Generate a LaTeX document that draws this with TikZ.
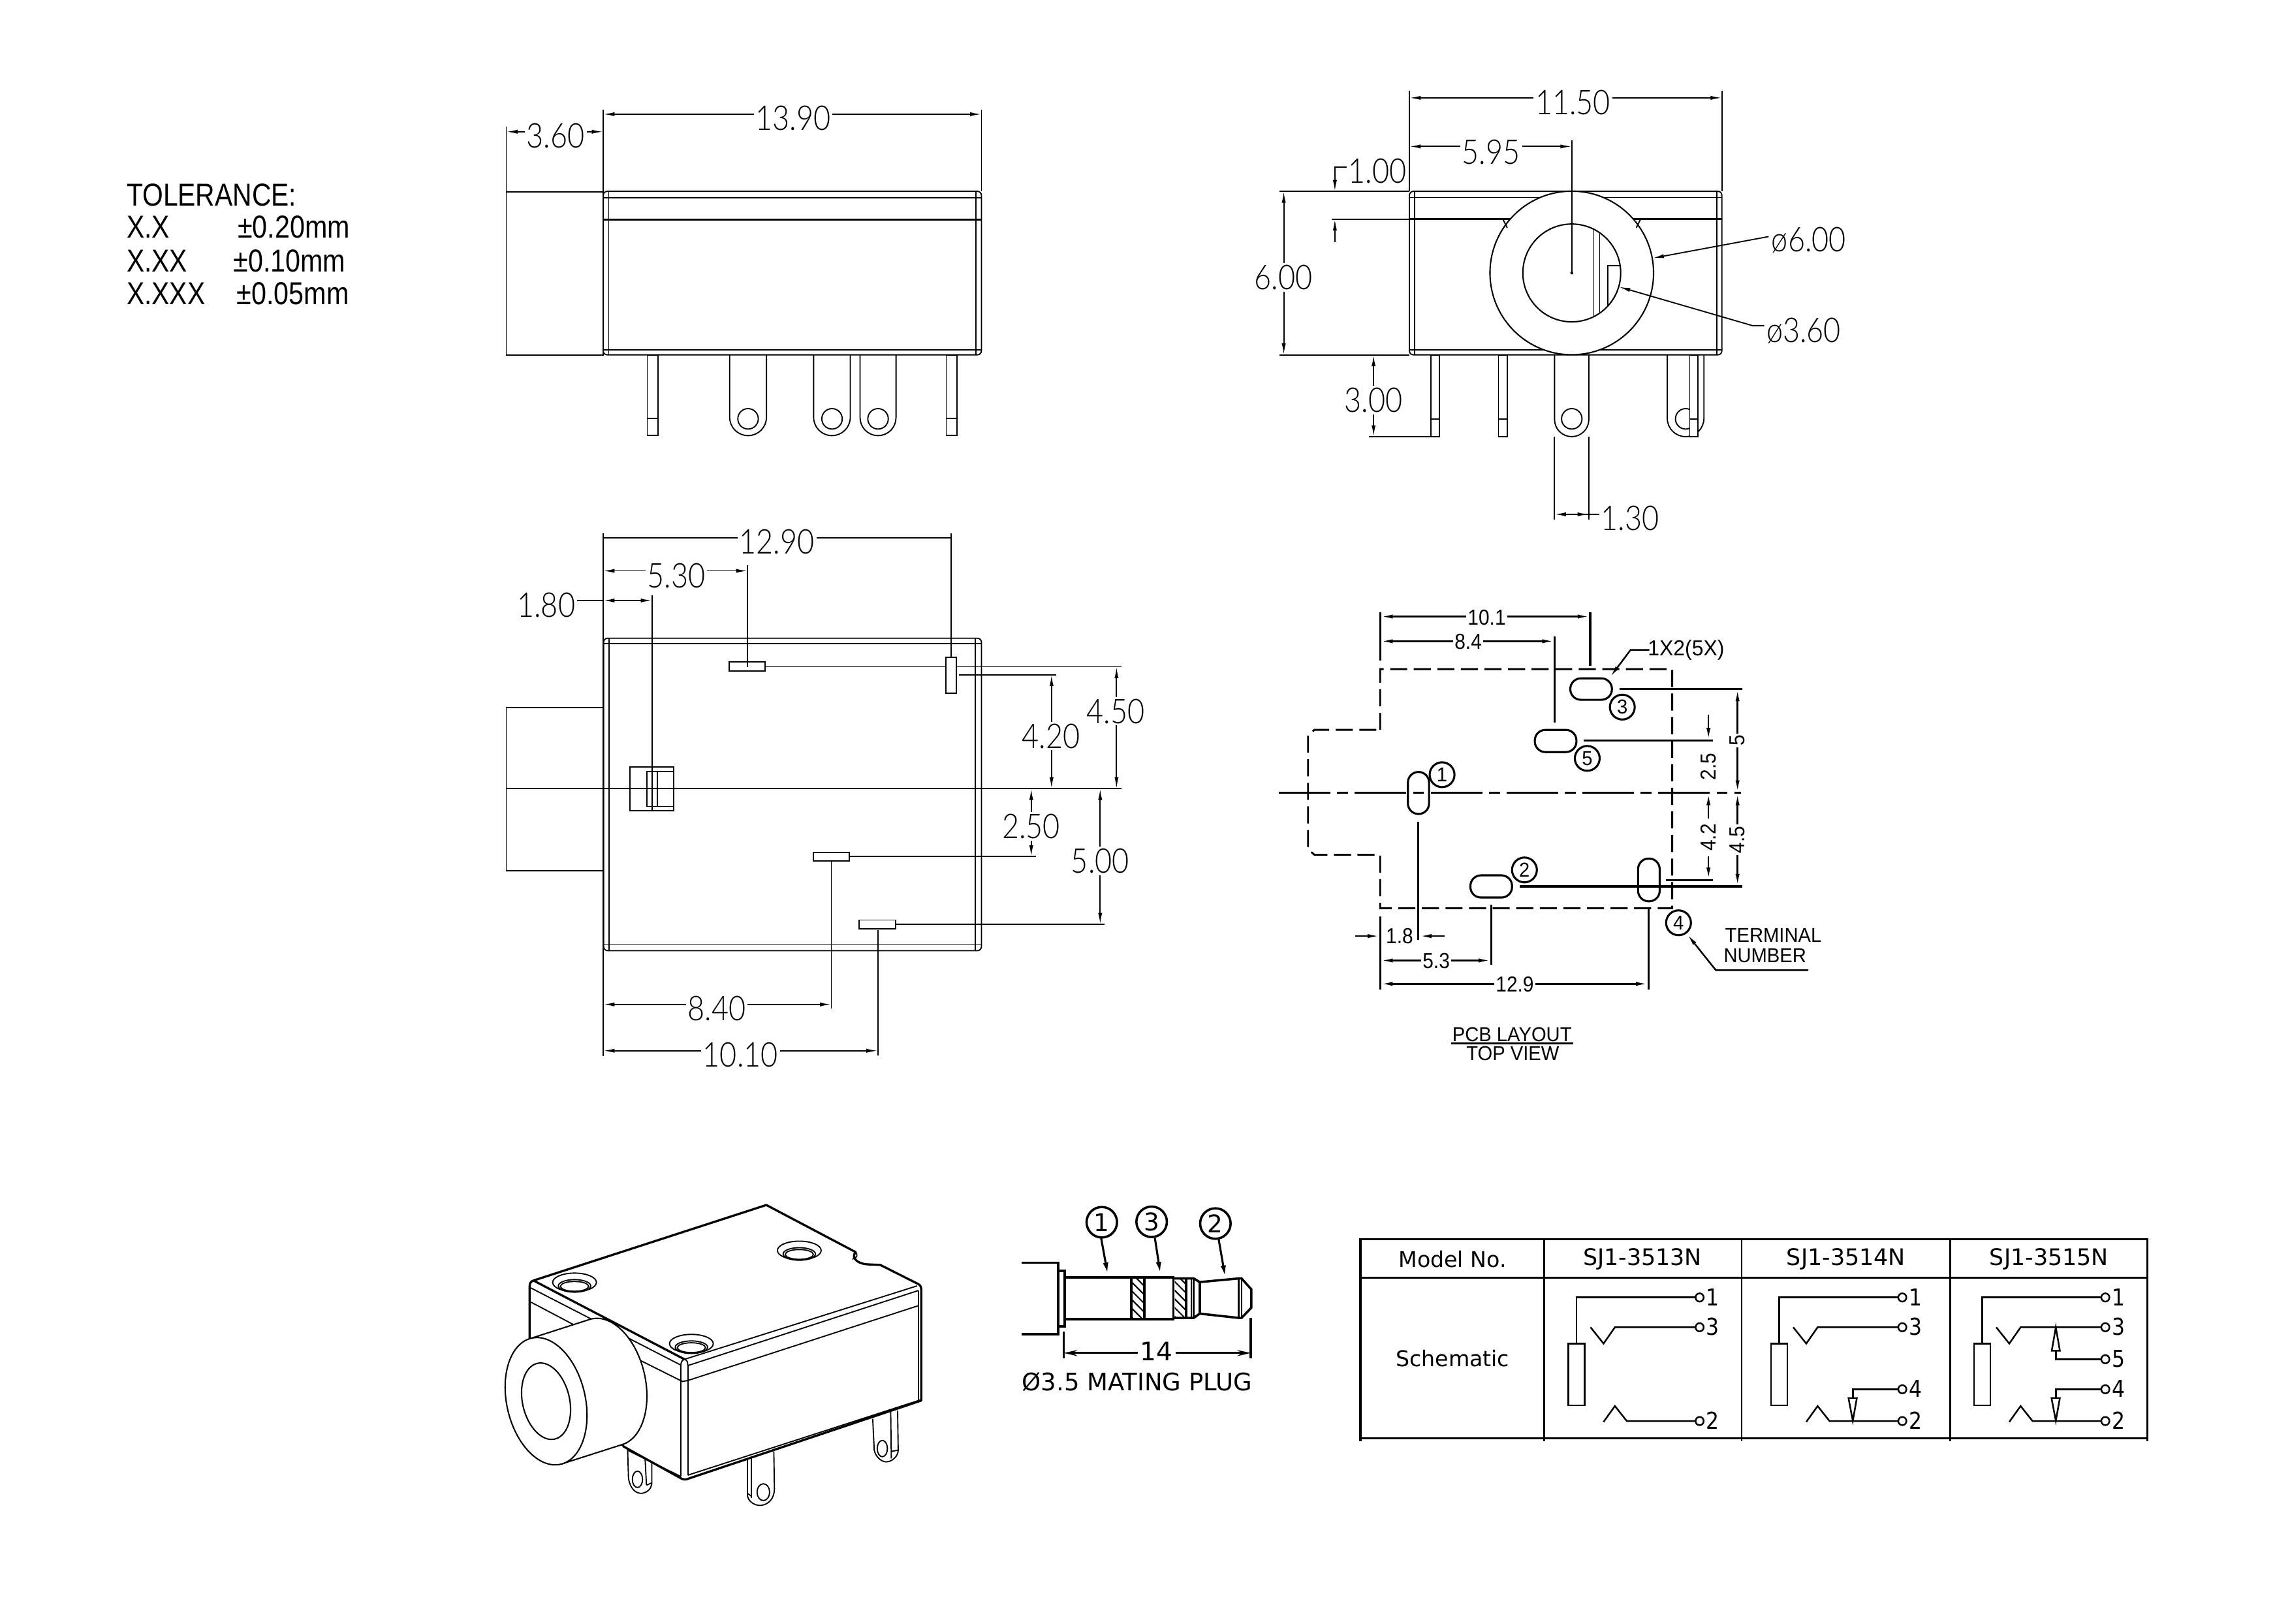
\documentclass[tikz,border=0pt]{standalone}
\usepackage{fontspec}
\usepackage{graphicx}
\usetikzlibrary{arrows.meta}
\setmainfont{Liberation Sans}
\newfontfamily\lightf[UprightFont=* Light]{Lato}
\newfontfamily\tabf{DejaVu Sans}
\newcount\tc
\newcommand\txtn[3][]{\global\advance\tc by 1 \node[inner sep=0pt,#1] (n\the\tc) at (#2) {#3};}
\newcommand\dtxt[3][]{\txtn[fill=white,inner sep=.7pt,#1]{#2}{\lightf\fontsize{12.6}{14}\selectfont\scalebox{.86}[1]{#3}}}
\newcommand\ptxt[3][]{\txtn[#1]{#2}{\fontsize{7.4}{9}\selectfont\scalebox{.95}[1]{#3}}}
\newcommand\ntxt[3][]{\txtn[#1]{#2}{\fontsize{8}{9}\selectfont\scalebox{.9}[1]{#3}}}
\newcommand\ttxt[2]{\txtn{#1}{\tabf\fontsize{8}{9}\selectfont #2}}
\newcommand\hdim[4][]{\draw[dl,#1] (#3,#2) -- (#4,#2);}
\newcommand\vdim[4][]{\draw[dl,#1] (#2,#3) -- (#2,#4);}
\newcommand\lug[4]{\draw[thinl] (#1,#3) -- (#1,#4-#2*.5+#1*.5) arc [start angle=180,end angle=0,radius={(#2-#1)/2}] -- (#2,#3);}
\newcommand\pin[4]{\draw[thinl,fill=white] (#1,#3) rectangle (#2,#4);\draw[thinl] (#1,286.6) -- (#2,286.6);}
\newcommand\isohole[2]{\draw[isol] (#1,#2) ellipse [x radius=73,y radius=40];
  \draw[isol] (#1,#2+15) ellipse [x radius=54,y radius=27];
  \draw[isol] (#1,#2+17) ellipse [x radius=47,y radius=21];}
\newcommand\term[2]{\draw[tab] (1263,#2) ellipse [x radius=15,y radius=19];\txtn{1312,#2-2}{\tabf\fontsize{8.6}{9}\selectfont\scalebox{.88}[1]{#1}}}
\newcommand\schbase{%
  \draw[tab] (778,505) rectangle (838,788);
  \draw[tab] (808,505) -- (808,293) -- (1248,293);
  \draw[tab] (860,430) -- (908,505) -- (950,430) -- (1248,430);
  \draw[tab] (908,865) -- (950,792) -- (994,861) -- (1248,861);
  \term{1}{293}\term{3}{430}\term{2}{861}}
\newcommand\schfour{%
  \draw[tab] (1248,715) -- (1080,715) -- (1080,755);
  \draw[tab] (1064,755) -- (1095,755) -- (1080,860) -- cycle;
  \term{4}{715}}
\tikzset{
  thinl/.style={line width=.45pt,black},
  midl/.style={line width=.8pt,black},
  dl/.style={line width=.45pt,{Latex[length=4.2pt,width=1.5pt]}-{Latex[length=4.2pt,width=1.5pt]}},
  ar/.style={line width=.45pt,-{Latex[length=4.2pt,width=1.5pt]}},
  pcb/.style={line width=.75pt},
  pcba/.style={line width=.6pt,{Latex[length=4.6pt,width=1.5pt]}-{Latex[length=4.6pt,width=1.5pt]}},
  pcbb/.style={line width=.6pt,-{Latex[length=4.6pt,width=1.5pt]}},
  pcbd/.style={line width=.7pt,dash pattern=on 6.3pt off 2.4pt},
  isol/.style={line width=.45pt},
  isoh/.style={line width=.8pt},
  tab/.style={line width=.6pt},
  tabh/.style={line width=.85pt},
  plug/.style={line width=.85pt},
  pluga/.style={line width=.75pt,-{Latex[length=4.2pt,width=2pt]}},
}
\begin{document}
\begin{tikzpicture}[x=0.18941mm,y=-0.18941mm]
\useasboundingbox (0,0) rectangle (1568,1111.7);
\fill[white] (0,0) rectangle (1568,1111.7);

% ---------- tolerance
\newcommand\tolf{\fontsize{11.7}{14}\selectfont}
\txtn[anchor=base west]{86.4,140.8}{\tolf\scalebox{.84}[1]{TOLERANCE:}}
\txtn[anchor=base west]{86.4,163.1}{\tolf\scalebox{.84}[1]{X.X}}
\txtn[anchor=base west]{86.4,186.2}{\tolf\scalebox{.84}[1]{X.XX}}
\txtn[anchor=base west]{86.4,208.6}{\tolf\scalebox{.84}[1]{X.XXX}}
\txtn[anchor=base west]{162.4,163.1}{\tolf\scalebox{.85}[1]{±0.20mm}}
\txtn[anchor=base west]{159.4,186.2}{\tolf\scalebox{.85}[1]{±0.10mm}}
\txtn[anchor=base west]{161.7,208.6}{\tolf\scalebox{.85}[1]{±0.05mm}}

% ---------- view 1 (side)
\lug{499.6}{524.8}{243}{298.3}\lug{557.1}{582.2}{243}{298.3}\lug{588.9}{613.5}{243}{298.3}
\draw[thinl] (512.2,286.8) ellipse [radius=7];
\draw[thinl] (569.7,286.8) ellipse [radius=7];
\draw[thinl] (601.2,286.8) ellipse [radius=7];
\pin{443.2}{450.6}{243}{298.3}\pin{647.9}{655.4}{243}{298.3}
\draw[thinl] (346.6,131.3) rectangle (413,243);
\draw[thinl,rounded corners=1.5pt] (413,131) rectangle (672,243);
\draw[thinl] (416.8,131) -- (416.8,243) (668.4,131) -- (668.4,243);
\draw[thinl] (413,135.6) -- (672,135.6) (413,239.4) -- (672,239.4);
\draw[midl] (413,150.4) -- (672,150.4);
\draw[thinl] (413,75) -- (413,131) (672,75) -- (672,131) (346.6,86.5) -- (346.6,131);
\hdim{78.2}{413}{672}
\hdim{90.2}{346.6}{413}
\dtxt{543,81}{13.90}
\dtxt{380.5,93}{3.60}

% ---------- view 2 (front)
\draw[thinl,fill=white] (979.9,243) rectangle (985.6,299);
\draw[thinl] (979.9,286.8) -- (985.6,286.8);
\draw[thinl,fill=white] (1026,243) rectangle (1031.9,299);
\draw[thinl] (1026,286.8) -- (1031.9,286.8);
\lug{1064.4}{1087.9}{243}{299}
\draw[thinl] (1076.2,286.8) ellipse [radius=7];
\lug{1141.6}{1166.7}{243}{299}
\draw[thinl] (1154.2,286.8) ellipse [radius=7];
\draw[thinl,fill=white] (1157,243) rectangle (1162.7,299);
\draw[thinl] (1157,286.8) -- (1162.7,286.8);
\draw[thinl,rounded corners=1.5pt] (965,131) rectangle (1179,243);
\draw[thinl] (968.6,131) -- (968.6,243) (1175.6,131) -- (1175.6,243);
\draw[thinl] (965,135.2) -- (1179,135.2) (965,239.4) -- (1179,239.4);
\draw[midl] (965,150) -- (1179,150);
\draw[line width=.5pt,fill=white] (1076.2,186.9) circle [radius=56];
\draw[thinl] (1029,150) -- (1032,156) (1123.4,150) -- (1120.4,156);
\begin{scope}
  \clip (1076.2,186.9) circle [radius=33.5];
  \draw[thinl] (1091.3,150) -- (1091.3,225) (1095.3,150) -- (1095.3,225);
  \draw[thinl] (1101,225) -- (1101,182) -- (1112,182);
\end{scope}
\draw[line width=.5pt] (1076.2,186.9) circle [radius=33.5];
\fill (1076.2,186.9) circle [radius=1];
\draw[thinl] (965,62) -- (965,131) (1179,62) -- (1179,131);
\hdim{67}{965}{1179}
\dtxt{1077,70}{11.50}
\hdim{100.3}{965}{1076.2}
\draw[thinl] (1076.2,96) -- (1076.2,186.9);
\dtxt{1021,104}{5.95}
\draw[thinl] (876,131) -- (965,131) (876,243) -- (965,243) (912,150) -- (965,150);
\vdim{879}{131}{243}
\dtxt{878.7,190}{6.00}
\draw[ar] (922,114.5) -- (914,114.5) -- (914,131);
\draw[ar] (914,166) -- (914,150);
\txtn[anchor=west,fill=white,inner sep=.5pt]{922,117}{\lightf\fontsize{12.6}{14}\selectfont\scalebox{.86}[1]{1.00}}
\draw[thinl] (937.5,243) -- (965,243) (937.5,299) -- (979.9,299);
\vdim{940.5}{243}{299}
\dtxt{940.5,274}{3.00}
\draw[thinl] (1064.4,299) -- (1064.4,356) (1087.9,299) -- (1087.9,356);
\draw[ar] (1075,352.2) -- (1064.4,352.2);
\draw[ar] (1078,352.2) -- (1087.9,352.2);
\draw[thinl] (1075,352.2) -- (1096,352.2);
\dtxt{1116,355}{1.30}
\draw[ar] (1211,162) -- (1131.5,176.8);
\dtxt{1238.5,164.5}{ø6.00}
\draw[ar] (1208,223) -- (1200,223) -- (1108.5,196.4);
\dtxt{1235,226.5}{ø3.60}

% ---------- view 3 (bottom)
\draw[thinl] (346.6,484.6) -- (413,484.6) (346.6,596.4) -- (413,596.4) (346.6,484.6) -- (346.6,596.4);
\draw[thinl,rounded corners=1.5pt] (413.3,437) rectangle (672,651);
\draw[thinl] (417,437) -- (417,651) (667.8,437) -- (667.8,651);
\draw[thinl] (413,440.8) -- (672,440.8) (413,647) -- (672,647);
\draw[thinl] (413,365) -- (413,723);
\draw[thinl] (346.6,540) -- (768,540);
\draw[thinl] (431.4,525.3) rectangle (461.2,555.2);
\draw[thinl] (443,528.2) rectangle (461.2,552.2);
\draw[thinl] (450.2,528.2) -- (450.2,552.2);
\draw[thinl] (446.5,407.6) -- (446.5,555);
\draw[thinl] (499.2,453.4) rectangle (524,459.5);
\draw[thinl] (511.8,387) -- (511.8,456.6);
\draw[thinl] (524,456.6) -- (768,456.6);
\draw[thinl,fill=white] (647.6,450) rectangle (654.8,474.5);
\draw[thinl] (651.2,365) -- (651.2,450);
\draw[thinl] (656.6,462) -- (723.4,462);
\draw[thinl] (557,583.6) rectangle (581.4,589.5);
\draw[thinl] (581.4,586.6) -- (709.3,586.6);
\draw[thinl] (569.2,590.2) -- (569.2,690.5);
\draw[thinl] (588.2,630) rectangle (613.3,636);
\draw[thinl] (613.3,632.9) -- (756.3,632.9);
\draw[thinl] (601,636.8) -- (601,722.8);
\draw[thinl] (413,368.3) -- (651.2,368.3);
\hdim{390.9}{413}{511.8}
\hdim{411.2}{413}{446.5}
\draw[thinl] (394,411.2) -- (413,411.2);
\hdim{687.8}{413}{569.2}
\hdim{719.5}{413}{601}
\vdim{764.5}{456.6}{540}
\vdim{720}{462}{540}
\vdim{706.1}{540}{586.6}
\vdim{753.3}{540}{632.9}
\dtxt{532,371}{12.90}
\dtxt{463,394}{5.30}
\dtxt{374,414.5}{1.80}
\dtxt{490.7,690.5}{8.40}
\dtxt{507,722.5}{10.10}
\dtxt{764,487}{4.50}
\dtxt{719.7,504}{4.20}
\dtxt{706,566}{2.50}
\dtxt{753.3,589.5}{5.00}

% ---------- PCB layout
\draw[pcbd] (945,499.8) -- (945,458.2) -- (1145,458.2) -- (1145,621.9) -- (945,621.9) -- (945,585.3) -- (900,585.3) -- (895.6,581.5) -- (895.6,503.5) -- (900,499.8) -- (945,499.8);
\draw[line width=.7pt,dash pattern=on 19pt off 2.5pt on 4pt off 2.5pt] (875.7,542.9) -- (1192,542.9);
\draw[pcb,rounded corners=3.9pt,fill=white] (1075.2,464.5) rectangle (1103.7,479.2);
\draw[pcb,rounded corners=3.9pt,fill=white] (1050.9,499.8) rectangle (1079.4,515);
\draw[pcb,rounded corners=3.9pt] (964,528.6) rectangle (978.5,557.4);
\draw[pcb,rounded corners=3.9pt] (1006.8,599.4) rectangle (1035.3,614.6);
\draw[pcb,rounded corners=3.9pt] (1121.6,587.9) rectangle (1136.4,617.2);
\draw[pcb] (987.4,530.5) circle [radius=8.5];
\draw[pcb] (1043.8,595.7) circle [radius=8.5];
\draw[pcb] (1110.8,484.2) circle [radius=8.5];
\draw[pcb] (1149.3,631.9) circle [radius=8.5];
\draw[pcb] (1086.8,519.3) circle [radius=8.5];
\ptxt{987.4,530.5}{1}\ptxt{1043.8,595.7}{2}\ptxt{1110.8,484.2}{3}\ptxt{1149.3,631.9}{4}\ptxt{1086.8,519.3}{5}
\draw[pcb] (945,419.2) -- (945,452.5);
\draw[pcb] (1088.8,419.2) -- (1088.8,456);
\draw[pcb] (1064.6,435.9) -- (1064.6,495);
\draw[pcba] (945,422.2) -- (1088.8,422.2);
\draw[pcba] (945,439.1) -- (1064.6,439.1);
\ntxt[fill=white,inner sep=.6pt]{1018,422.9}{10.1}
\ntxt[fill=white,inner sep=.6pt]{1005.3,439.6}{8.4}
\draw[pcbb] (1129.3,445) -- (1116.5,445) -- (1102.2,464);
\txtn[anchor=west]{1128,445}{\fontsize{8}{9}\selectfont\scalebox{.96}[1]{1X2(5X)}}
\draw[pcb] (1108.8,471.6) -- (1192.9,471.6);
\draw[pcb] (1084.3,507) -- (1172.9,507);
\draw[pcb] (1140.7,602.6) -- (1172.9,602.6);
\draw[pcb] (1040.4,607) -- (1192.9,607);
\draw[pcba] (1189.7,471.6) -- (1189.7,542.9);
\draw[pcba] (1189.7,542.9) -- (1189.7,607);
\ntxt[rotate=90,fill=white,inner sep=.6pt]{1189.7,507}{5}
\ntxt[rotate=90,fill=white,inner sep=.6pt]{1189.7,575}{4.5}
\draw[pcbb] (1169.8,489.6) -- (1169.8,507);
\draw[pcbb] (1169.8,560.4) -- (1169.8,542.9);
\draw[pcbb] (1169.8,586.4) -- (1169.8,602.6);
\ntxt[rotate=90]{1169.8,525}{2.5}
\ntxt[rotate=90]{1169.8,573.4}{4.2}
\draw[pcb] (945,627.6) -- (945,677.4);
\draw[pcb] (971.1,562.6) -- (971.1,643.8);
\draw[pcb] (1021,619.3) -- (1021,660.5);
\draw[pcb] (1128.7,621.5) -- (1128.7,677.4);
\draw[pcbb] (927.8,641) -- (945,641);
\draw[pcbb] (989,641) -- (971.6,641);
\ntxt{958.3,641}{1.8}
\draw[pcba] (945,657.7) -- (1021,657.7);
\draw[pcba] (945,673.7) -- (1128.7,673.7);
\ntxt[fill=white,inner sep=.6pt]{983.4,658}{5.3}
\ntxt[fill=white,inner sep=.6pt]{1037.2,674.1}{12.9}
\draw[pcbb] (1238.2,664.4) -- (1174.9,664.4) -- (1155,639.5);
\ptxt{1214.2,640.6}{TERMINAL}
\ptxt{1208.5,654.6}{NUMBER}
\ptxt{1035.3,708.4}{PCB LAYOUT}
\draw[pcb] (993.4,714.6) -- (1077.4,714.6);
\ptxt{1035.8,721.4}{TOP VIEW}

% ---------- isometric view
\begin{scope}[shift={(330.8,813.5)},xscale=.2052,yscale=.1596]
  % leads
  \draw[isol] (482,1115) -- (485,1245) .. controls (490,1290) and (510,1312) .. (530,1310) .. controls (550,1305) and (563,1290) .. (563,1260) -- (563,1170);
  \draw[isol] (540,1150) -- (545,1275) (545,1275) -- (563,1265);
  \draw[isol] (515,1250) ellipse [x radius=17,y radius=35];
  \draw[isol] (882,1165) -- (882,1320) .. controls (885,1345) and (905,1362) .. (925,1362) .. controls (950,1360) and (972,1335) .. (972,1290) -- (970,1130);
  \draw[isol] (895,1160) -- (895,1330) (882,1310) -- (895,1322);
  \draw[isol] (935,1305) ellipse [x radius=21,y radius=36];
  \draw[isol] (1300,990) -- (1305,1125) .. controls (1310,1155) and (1330,1175) .. (1345,1175) .. controls (1365,1175) and (1385,1150) .. (1385,1125) -- (1383,955);
  \draw[isol] (1360,960) -- (1362,1160) (1362,1130) -- (1385,1125);
  \draw[isol] (1332,1118) ellipse [x radius=17,y radius=35];
  % body
  \draw[isoh,fill=white,line join=round] (155,425) .. controls (155,408) and (158,402) .. (168,397) -- (945,73) -- (1243,275) .. controls (1226,300) and (1250,328) .. (1290,328) -- (1325,330) -- (1452,412) .. controls (1460,418) and (1462,425) .. (1462,440) -- (1462,912) -- (678,1250) .. controls (672,1252) and (668,1250) .. (662,1247) -- (470,1110) -- (155,650) -- cycle;
  \draw[isol] (1243,275) .. controls (1250,285) and (1250,300) .. (1232,305);
  \draw[isoh] (672,735) -- (168,397);
  \draw[isol] (158,428) -- (660,760);
  \draw[isol] (672,735) -- (1448,420);
  \draw[isol] (683,762) -- (1452,440);
  \draw[isol] (672,735) .. controls (665,738) and (660,745) .. (660,760);
  \draw[isol] (672,735) .. controls (680,738) and (683,745) .. (683,762);
  \draw[isol] (683,826) -- (1452,505);
  \draw[isol] (160,490) -- (300,585);
  \draw[isol] (525,740) -- (665,830) -- (683,826);
  \draw[isol] (660,760) -- (660,1238);
  \draw[isol] (683,762) -- (683,1232);
  \draw[isol] (1453,440) -- (1453,915);
  \draw[isol] (683,1232) -- (1462,908);
  \draw[isol] (482,1125) -- (660,1238);
  \isohole{305}{405}
  \isohole{1055}{268}
  \isohole{695}{668}
\end{scope}
% cylinder
\begin{scope}[shift={(414.9,946.3)},rotate=13]
  \draw[line width=.5pt,fill=white] (-44.31,-40.57) -- (-1.41,-44.2) arc [start angle=-93,end angle=87,x radius=26.9,y radius=44.3] -- (-41.49,47.83) -- cycle;
\end{scope}
\begin{scope}[shift={(373.9,959.5)},rotate=13]
  \draw[line width=.5pt,fill=white] (0,0) ellipse [x radius=26.9,y radius=44.3];
  \draw[line width=.5pt] (0,0) ellipse [x radius=16.1,y radius=26.6];
\end{scope}

% ---------- plug
\begin{scope}[shift={(688.4,822.5)},scale=.149]
  \draw[plug] (75,283) -- (242,283) -- (242,612) -- (75,612);
  \draw[plug] (242,320) rectangle (272,575);
  \draw[plug] (272,350) -- (772,350) -- (772,543) -- (272,543);
  \draw[plug] (578,350) -- (578,543) (638,350) -- (638,543);
  \begin{scope}
    \clip (578,350) rectangle (638,543);
    \foreach \a in {-220,-180,...,60} \draw[line width=.5pt] (578+\a,350) -- (578+\a+193,543);
  \end{scope}
  \begin{scope}
    \clip (778,355) rectangle (830,537);
    \foreach \a in {-220,-180,...,60} \draw[line width=.5pt] (778+\a,350) -- (778+\a+193,543);
  \end{scope}
  \draw[plug] (772,355) -- (865,355) -- (893,372) -- (1075,355) -- (1085,355) -- (1130,405) -- (1130,490) -- (1085,537) -- (1075,537) -- (893,517) -- (865,537) -- (772,537);
  \draw[plug] (830,355) -- (830,537);
  \draw[line width=.5pt] (855,355) -- (855,537);
  \draw[line width=.5pt] (865,355) -- (865,537);
  \draw[plug] (893,372) -- (893,517);
  \draw[line width=.5pt] (1072,355) -- (1072,537) (1085,355) -- (1085,537);
  \draw[plug] (443,97) circle [radius=70];
  \draw[plug] (672,95) circle [radius=70];
  \draw[plug] (965,103) circle [radius=70];
  \draw[pluga] (440,170) -- (470,335);
  \draw[pluga] (687,170) -- (712,332);
  \draw[pluga] (980,175) -- (1010,348);
  \draw[plug] (268,600) -- (268,722) (1128,535) -- (1128,722);
  \draw[line width=.7pt,{Stealth[length=5pt,width=2.2pt]}-{Stealth[length=5pt,width=2.2pt]}] (268,698) -- (1128,698);
\end{scope}
\txtn[fill=white,inner sep=1pt]{791.9,925.3}{\tabf\fontsize{9.4}{11}\selectfont 14}
\txtn{754.4,836.9}{\tabf\fontsize{9}{11}\selectfont 1}
\txtn{788.5,836.5}{\tabf\fontsize{9}{11}\selectfont 3}
\txtn{832.2,837.8}{\tabf\fontsize{9}{11}\selectfont 2}
\txtn{778.5,946.2}{\tabf\fontsize{8.9}{11}\selectfont Ø3.5 MATING PLUG}

% ---------- table
\draw[tabh] (931.6,848.5) rectangle (1470.3,984.9);
\draw[tabh] (931.6,874.9) -- (1470.3,874.9);
\draw[tabh] (931.6,984.9) -- (931.6,987.1) (1470.3,984.9) -- (1470.3,987.1);
\draw[tab] (1057.4,848.5) -- (1057.4,987.1);
\draw[tab] (1192.5,848.5) -- (1192.5,987.1);
\draw[tab] (1335.4,848.5) -- (1335.4,987.1);
\ttxt{994.6,862.4}{Model No.}
\txtn{1124.6,862.4}{\tabf\fontsize{8.4}{9}\selectfont SJ1-3513N}
\txtn{1264,862.4}{\tabf\fontsize{8.4}{9}\selectfont SJ1-3514N}
\txtn{1403,862.4}{\tabf\fontsize{8.4}{9}\selectfont SJ1-3515N}
\ttxt{994.6,930}{Schematic}
\begin{scope}[shift={(929.7,844.8)},xscale=.1853,yscale=.149]
  \schbase
\end{scope}
\begin{scope}[shift={(1068.5,844.8)},xscale=.1853,yscale=.149]
  \schbase
  \schfour
\end{scope}
\begin{scope}[shift={(1207.5,844.8)},xscale=.1853,yscale=.149]
  \schbase
  \schfour
  \draw[tab] (1080,430) -- (1095,538) -- (1065,538) -- cycle;
  \draw[tab] (1080,538) -- (1080,577) -- (1248,577);
  \term{5}{577}
\end{scope}
\end{tikzpicture}
\end{document}
